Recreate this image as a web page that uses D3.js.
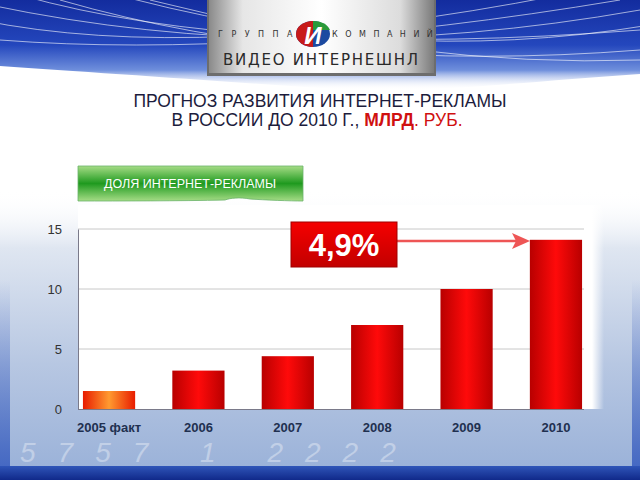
<!DOCTYPE html>
<html><head><meta charset="utf-8">
<script src="https://cdn.jsdelivr.net/npm/d3@7"></script>
<style>body{margin:0;padding:0;overflow:hidden;background:#fff}svg{display:block}</style>
</head><body>
<script>
const categories = ["2005 факт","2006","2007","2008","2009","2010"];
const values = [1.5, 3.2, 4.4, 7.0, 10.0, 14.1];
const yTicks = [0, 5, 10, 15];
const titleLine1 = "ПРОГНОЗ РАЗВИТИЯ ИНТЕРНЕТ-РЕКЛАМЫ";
const labelText = "ДОЛЯ ИНТЕРНЕТ-РЕКЛАМЫ";
const shareText = "4,9%";

const W = 640, H = 480;
const svg = d3.select("body").append("svg").attr("width", W).attr("height", H);
const defs = svg.append("defs");

function lin(id, x1,y1,x2,y2, stops){
  const g = defs.append("linearGradient").attr("id", id)
    .attr("x1",x1).attr("y1",y1).attr("x2",x2).attr("y2",y2);
  stops.forEach(s => g.append("stop").attr("offset", s[0]).attr("stop-color", s[1]).attr("stop-opacity", s[2]==null?1:s[2]));
}
lin("hdr", 0,0,0,1, [[0,"#132c9e"],[0.5,"#2447bd"],[0.78,"#6f8fdc"],[1,"#ffffff",0]]);
lin("lower", 0,0,0,1, [[0,"#ffffff",0],[0.2,"#dfe6f1"],[0.6,"#b7c7e2"],[1,"#98b0d8"]]);
lin("bottomband", 0,0,0,1, [[0,"#2f55b8"],[1,"#10298a"]]);
lin("logo", 0,0,1,0, [[0,"#8a8a8a"],[0.15,"#e6e6e6"],[0.5,"#ffffff"],[0.85,"#dcdcdc"],[1,"#7a7a7a"]]);
lin("barRed", 0,0,1,0, [[0,"#b80000"],[0.5,"#ff0a0a"],[1,"#b80000"]]);
lin("barOrange", 0,0,1,0, [[0,"#e81c00"],[0.5,"#ff9a30"],[1,"#e81c00"]]);
lin("green", 0,0,0,1, [[0,"#a6dc86"],[0.5,"#1f9a1f"],[1,"#a6dc86"]]);
lin("redbox", 0,0,0,1, [[0,"#f50000"],[1,"#c20000"]]);
lin("edgeV", 0,0,0,1, [[0,"#3a5fc0",0],[1,"#3a5fc0",0.9]]);
lin("whiteR", 0,0,1,0, [[0,"#ffffff"],[1,"#ffffff",0]]);

// lower background
svg.append("rect").attr("x",0).attr("y",190).attr("width",W).attr("height",H-190).attr("fill","url(#lower)");
svg.append("rect").attr("x",0).attr("y",280).attr("width",10).attr("height",190).attr("fill","url(#edgeV)");
svg.append("rect").attr("x",W-8).attr("y",280).attr("width",8).attr("height",190).attr("fill","url(#edgeV)");
svg.append("rect").attr("x",0).attr("y",466).attr("width",W).attr("height",14).attr("fill","url(#bottomband)");
// faint background digits
svg.append("text").attr("x",20).attr("y",462).attr("font-family","Liberation Sans, Arial, sans-serif")
  .attr("font-size",28).attr("font-style","italic").attr("fill","#ffffff").attr("opacity",0.35)
  .attr("letter-spacing",22).text("5757 1 2222");

// header swoosh
svg.append("path").attr("d","M0,0 H640 V74 C520,82 420,95 320,88 C200,80 90,72 0,66 Z").attr("fill","url(#hdr)");
const lines = svg.append("g").attr("fill","none").attr("stroke","#ffffff").attr("stroke-opacity",0.6).attr("stroke-width",1);
[[-10,5,300,70,640,10],[20,-5,250,60,640,30],[60,0,320,75,640,50],[-20,20,200,65,560,-5],[100,-10,380,70,650,25],[0,40,260,60,620,0],[150,0,420,68,640,60]].forEach(c=>{
  lines.append("path").attr("d",`M${c[0]},${c[1]} Q${c[2]},${c[3]} ${c[4]},${c[5]}`);
});

// logo box
svg.append("rect").attr("x",207).attr("y",0).attr("width",229).attr("height",76).attr("fill","#6d6d6d");
svg.append("rect").attr("x",209).attr("y",0).attr("width",225).attr("height",73).attr("fill","url(#logo)");
const lf = "DejaVu Sans, sans-serif";
svg.append("text").attr("x",218).attr("y",37).attr("font-family",lf).attr("font-size",8).attr("fill","#333")
  .attr("letter-spacing",8.5).text("ГРУППА");
svg.append("text").attr("x",332).attr("y",37).attr("font-family",lf).attr("font-size",8).attr("fill","#333")
  .attr("letter-spacing",7.5).text("КОМПАНИЙ");
svg.append("ellipse").attr("cx",313).attr("cy",34).attr("rx",17).attr("ry",13).attr("fill","#1c4aa0");
svg.append("path").attr("d","M296,34 A17,13 0 0,1 313,21 L313,47 A17,13 0 0,1 296,34Z").attr("fill","#c81a1a");
svg.append("path").attr("d","M313,21 A17,13 0 0,1 330,30 L313,30Z").attr("fill","#2a9a3a");
svg.append("text").attr("x",313).attr("y",44).attr("text-anchor","middle").attr("font-family","Liberation Sans, Arial, sans-serif")
  .attr("font-size",24).attr("font-style","italic").attr("font-weight","bold").attr("fill","#fff").text("И");
svg.append("text").attr("x",321).attr("y",65).attr("text-anchor","middle").attr("font-family",lf)
  .attr("font-size",15).attr("fill","#2a2a2a").attr("letter-spacing",1).attr("textLength",196).text("ВИДЕО ИНТЕРНЕШНЛ");

// title
const tf = "Liberation Sans, Arial, sans-serif";
svg.append("text").attr("x",320).attr("y",107).attr("text-anchor","middle").attr("font-family",tf)
  .attr("font-size",17.5).attr("fill","#1c1c3c").text(titleLine1);
const t2 = svg.append("text").attr("x",317).attr("y",126).attr("text-anchor","middle").attr("font-family",tf)
  .attr("font-size",17.5).attr("fill","#1c1c3c");
t2.append("tspan").text("В РОССИИ ДО 2010 Г., ");
t2.append("tspan").attr("fill","#d01010").attr("font-weight","bold").text("МЛРД");
t2.append("tspan").attr("fill","#d01010").text(". РУБ.");

// chart
const x0 = 78, yTop = 229, yBot = 409;
const x = d3.scaleBand().domain(categories).range([74, 591]).paddingInner(0.416).paddingOuter(0.1);
const y = d3.scaleLinear().domain([0,15]).range([yBot, yTop]);

svg.append("rect").attr("x",x0).attr("y",205).attr("width",514).attr("height",yBot-205).attr("fill","#ffffff");
svg.append("rect").attr("x",592).attr("y",205).attr("width",12).attr("height",yBot-205).attr("fill","url(#whiteR)");

const grid = svg.append("g");
grid.selectAll("line").data(yTicks.filter(d=>d>0)).join("line")
  .attr("x1",x0).attr("x2",584).attr("y1",d=>y(d)).attr("y2",d=>y(d))
  .attr("stroke","#c8c8c8").attr("stroke-width",1);

svg.append("g").selectAll("rect").data(values).join("rect")
  .attr("x",(d,i)=>x(categories[i])).attr("width",x.bandwidth())
  .attr("y",d=>y(d)).attr("height",d=>yBot-y(d))
  .attr("fill",(d,i)=> i===0 ? "url(#barOrange)" : "url(#barRed)");

const yAxis = svg.append("g").attr("transform",`translate(${x0},0)`)
  .call(d3.axisLeft(y).tickValues(yTicks).tickSize(0).tickPadding(16));
yAxis.select(".domain").attr("stroke","#7a7a8a");
yAxis.selectAll("text").attr("font-family",tf).attr("font-size",13).attr("fill","#333");

const xAxis = svg.append("g").attr("transform",`translate(0,${yBot})`)
  .call(d3.axisBottom(x).tickSize(0).tickPadding(14));
xAxis.select(".domain").attr("d",`M${x0},0.5H584`).attr("stroke","#7a7a8a");
xAxis.selectAll("text").attr("font-family",tf).attr("font-size",13).attr("font-weight","bold").attr("fill","#1f3050");

// green label
svg.append("path").attr("d","M78,166 H303 V201 C290,201 265,200 250,199 C240,197 230,198 225,200 C180,201 120,201 78,201 Z")
  .attr("fill","url(#green)").attr("stroke","#6ab26a").attr("stroke-width",0.8);
svg.append("text").attr("x",190).attr("y",188).attr("text-anchor","middle").attr("font-family",tf)
  .attr("font-size",12.5).attr("fill","#fff").attr("textLength",172).attr("lengthAdjust","spacingAndGlyphs").text(labelText);

// share box + arrow
svg.append("line").attr("x1",397).attr("x2",520).attr("y1",241).attr("y2",241).attr("stroke","#ee5555").attr("stroke-width",2.5);
svg.append("path").attr("d","M530,241 L512,233 L516,241 L512,249 Z").attr("fill","#ee5555");
svg.append("rect").attr("x",291).attr("y",222).attr("width",106).attr("height",45).attr("fill","url(#redbox)")
  .attr("stroke","#a00000").attr("stroke-width",1);
svg.append("text").attr("x",344).attr("y",256).attr("text-anchor","middle").attr("font-family",tf)
  .attr("font-size",31).attr("font-weight","bold").attr("fill","#fff").text(shareText);
</script>
</body></html>
